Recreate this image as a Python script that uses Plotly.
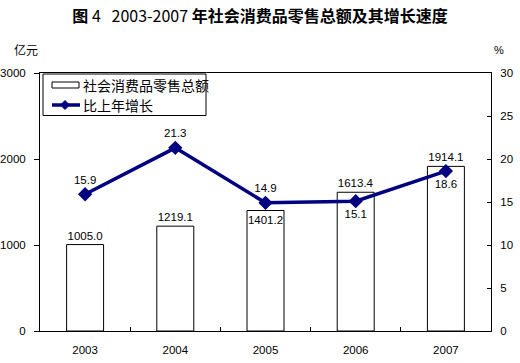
import plotly.graph_objects as go

years = ["2003", "2004", "2005", "2006", "2007"]
sales = [1005.0, 1219.1, 1401.2, 1613.4, 1914.1]
growth = [15.9, 21.3, 14.9, 15.1, 18.6]
sales_label_pos = ["outside", "outside", "inside", "outside", "outside"]
growth_label_pos = ["top center", "top center", "top center", "bottom center", "bottom center"]
series_names = ["社会消费品零售总额", "比上年增长"]

FONT = "Liberation Sans, Arial, Noto Sans CJK SC, sans-serif"
CJK = "Noto Sans CJK SC, SimSun, sans-serif"
NAVY = "#000080"

# plot-area geometry in pixels (for converting legend layout to paper coords)
W, H = 520, 363
ML, MR, MT, MB = 40, 29, 73, 32
PW, PH = W - ML - MR, H - MT - MB


def px(x):
    return (x - ML) / PW


def py(y):
    return (H - MB - y) / PH


fig = go.Figure()
fig.add_trace(go.Bar(
    x=years, y=sales, name=series_names[0],
    marker=dict(color="white", line=dict(color="black", width=1)),
    width=0.41,
    text=[f"{v:.1f}" for v in sales], textposition=sales_label_pos,
    insidetextanchor="end", textangle=0, constraintext="none",
    textfont=dict(family=FONT, size=11.5, color="black"),
    cliponaxis=False,
))
fig.add_trace(go.Scatter(
    x=years, y=growth, name=series_names[1], yaxis="y2",
    mode="lines+markers+text",
    line=dict(color=NAVY, width=3.5),
    marker=dict(symbol="diamond", size=11, color=NAVY),
    text=[f"{v:.1f}" for v in growth], textposition=growth_label_pos,
    textfont=dict(family=FONT, size=11.5, color="black"),
    cliponaxis=False,
))

# hand-drawn compact legend, like the original
Y1, Y2 = 85, 105
shapes = [
    dict(type="rect", xref="paper", yref="paper", x0=px(43), x1=px(206),
         y0=py(115.5), y1=py(74), line=dict(color="black", width=1),
         fillcolor="white", layer="above"),
    dict(type="rect", xref="paper", yref="paper", x0=px(52), x1=px(79),
         y0=py(Y1 + 3), y1=py(Y1 - 3), line=dict(color="black", width=1),
         fillcolor="white", layer="above"),
    dict(type="line", xref="paper", yref="paper", x0=px(52), x1=px(80),
         y0=py(Y2), y1=py(Y2), line=dict(color=NAVY, width=3.5),
         layer="above"),
    dict(type="path", xref="paper", yref="paper",
         path=f"M {px(60.5)},{py(Y2)} L {px(65)},{py(Y2 - 4.5)} L {px(69.5)},{py(Y2)} "
              f"L {px(65)},{py(Y2 + 4.5)} Z",
         fillcolor=NAVY, line=dict(color=NAVY, width=1), layer="above"),
]
legend_texts = [
    dict(text=series_names[0], xref="paper", yref="paper", x=px(81), y=py(Y1),
         xanchor="left", yanchor="middle", showarrow=False,
         font=dict(family=CJK, size=14, color="black")),
    dict(text=series_names[1], xref="paper", yref="paper", x=px(81), y=py(Y2),
         xanchor="left", yanchor="middle", showarrow=False,
         font=dict(family=CJK, size=14, color="black")),
]

fig.update_layout(
    width=W, height=H,
    margin=dict(l=ML, r=MR, t=MT, b=MB, autoexpand=False),
    paper_bgcolor="white", plot_bgcolor="white",
    font=dict(family=FONT, size=11, color="black"),
    showlegend=False,
    title=dict(
        text="<b>图</b> 4   2003-2007 <b>年社会消费品零售总额及其增长速度</b>",
        x=0.5, xref="container", xanchor="center",
        y=1 - 16 / H, yref="container", yanchor="middle",
        font=dict(family=CJK, size=16, color="black"),
    ),
    xaxis=dict(
        type="category", tickson="boundaries", ticks="inside", ticklen=4,
        tickcolor="black", showline=True, linecolor="black", linewidth=1,
        mirror=True, showgrid=False, ticklabelstandoff=8, automargin=False,
        tickfont=dict(family=FONT, size=11.5),
    ),
    yaxis=dict(
        range=[0, 3000], tickvals=[0, 1000, 2000, 3000], ticks="outside",
        ticklen=5, tickcolor="black", showline=True, linecolor="black",
        linewidth=1, showgrid=False, zeroline=False, ticklabelstandoff=6,
        automargin=False, tickfont=dict(family=FONT, size=11.5),
    ),
    yaxis2=dict(
        range=[0, 30], tickvals=[0, 5, 10, 15, 20, 25, 30], ticks="inside",
        ticklen=4, tickcolor="black", overlaying="y", side="right",
        showline=True, linecolor="black", linewidth=1, showgrid=False,
        zeroline=False, ticklabelstandoff=6, automargin=False,
        tickfont=dict(family=FONT, size=11.5),
    ),
    shapes=shapes,
    annotations=legend_texts + [
        dict(text="亿元", xref="paper", yref="paper", x=0, y=1, xanchor="center",
             yanchor="middle", xshift=-14, yshift=24, showarrow=False,
             font=dict(family=CJK, size=12, color="black")),
        dict(text="%", xref="paper", yref="paper", x=1, y=1, xanchor="center",
             yanchor="middle", xshift=8, yshift=23, showarrow=False,
             font=dict(family=FONT, size=11, color="black")),
    ],
)

fig.write_html("out.html", config={"displayModeBar": False},
               post_script="document.body.style.margin='0';")
